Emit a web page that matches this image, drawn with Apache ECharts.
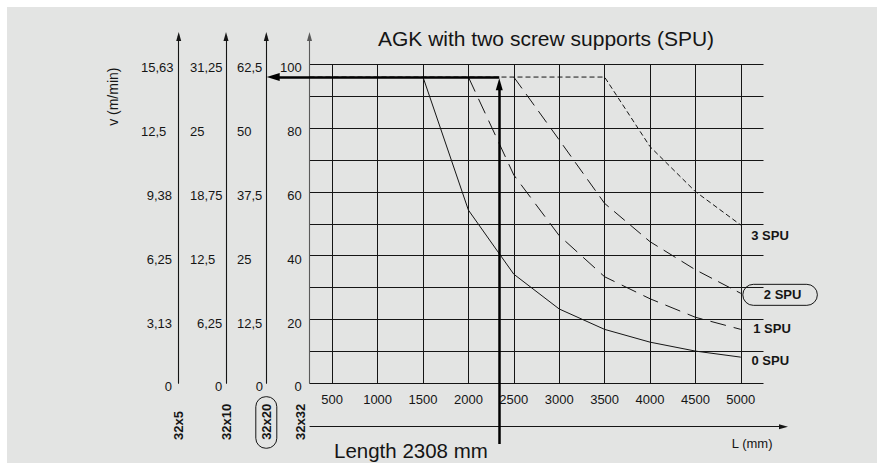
<!DOCTYPE html>
<html><head><meta charset="utf-8">
<script src="https://cdn.jsdelivr.net/npm/echarts@6/dist/echarts.min.js"></script>
<style>html,body{margin:0;padding:0;background:#fff}#c{width:884px;height:470px}</style>
</head><body><div id="c"></div>
<script>
// ---------------- data ----------------
const titleText = 'AGK with two screw supports (SPU)';
const lengthText = 'Length 2308 mm';
const speedAxisName = 'v (m/min)';
const lengthAxisName = 'L (mm)';
const seriesNames = ['0 SPU', '1 SPU', '2 SPU', '3 SPU'];
const spu0L = [1500, 2000, 2500, 3000, 3500, 4000, 4500, 5000];
const spu0V = [96, 54.3, 34.2, 23.3, 16.9, 12.9, 10.1, 8.2];
const spu1L = [2000, 2500, 3000, 3500, 4000, 4500, 5000];
const spu1V = [96, 65.3, 46.3, 33.4, 26.5, 20.7, 16.9];
const spu2L = [2500, 3000, 3500, 4000, 4500, 5000];
const spu2V = [96, 76.3, 56.4, 44.4, 35.6, 28.2];
const spu3L = [250, 3500, 4000, 4500, 5000];
const spu3V = [96, 96, 74.2, 60.1, 49.6];
const markLength = 2340;   // drawn position of the 2308 mm reading
const markSpeed = 96;
const xTickLabels = ['500', '1000', '1500', '2000', '2500', '3000', '3500', '4000', '4500', '5000'];
const screwNames = ['32x32', '32x20', '32x10', '32x5'];
const ticks32x32 = ['0', '20', '40', '60', '80', '100'];
const ticks32x20 = ['0', '12,5', '25', '37,5', '50', '62,5'];
const ticks32x10 = ['0', '6,25', '12,5', '18,75', '25', '31,25'];
const ticks32x5 = ['0', '3,13', '6,25', '9,38', '12,5', '15,63'];

// ---------------- layout ----------------
const FONT = 'Liberation Sans, Arial, Helvetica, sans-serif';
const INK = '#151515';
const G = { left: 309.5, right: 763.5, y0: 383.3, y100: 64.3, W: 884, H: 470 };
const xMin = 250, xMax = 5250, yMax = 100;
const kx = (G.right - G.left) / (xMax - xMin);
const ky = (G.y0 - G.y100) / yMax;
const arrowTop = 36.5;
const yMaxA = (G.y0 - arrowTop) / ky;
const bLeft = 266.3, bBottom = 444, bTop = 40;
const xMinB = xMin - (G.left - bLeft) / kx;
const yMinB = -(bBottom - G.y0) / ky;
const yMaxB = (G.y0 - bTop) / ky;
const vArrow = [7, 12], hArrow = [8, 13];
const vEnd = markSpeed - (vArrow[1] / 2 + 1.2) / ky;
const hEnd = xMinB + (hArrow[1] / 2 + 0.4) / kx;

function tickFormatter(labels, leftSet) {
  return function (v) {
    const i = Math.round(v / 20);
    if (Math.abs(v - i * 20) > 1e-6 || i < 0 || i >= labels.length) return '';
    return leftSet.indexOf(i) >= 0 ? '{l|' + labels[i] + '}' : labels[i];
  };
}

function speedAxis(offset, labels, leftSet, boxW, margin, lineColor, showLine) {
  return {
    gridIndex: 1, type: 'value', position: 'left', offset: offset,
    min: 0, max: yMaxA, interval: 20,
    axisLine: { show: showLine, symbol: ['none', 'triangle'], symbolSize: [5, 9],
      lineStyle: { color: lineColor, width: 1.1 } },
    axisTick: { show: false }, splitLine: { show: false },
    axisLabel: { show: labels != null, formatter: labels ? tickFormatter(labels, leftSet) : '',
      margin: margin, align: 'right', verticalAlign: 'middle', padding: [7, 0, 0, 0],
      fontSize: 13, fontFamily: FONT, color: INK,
      rich: { l: { width: boxW, align: 'left', fontSize: 13, fontFamily: FONT, color: INK } } }
  };
}

function nameAxis(base, name, gap, extraStyle) {
  return Object.assign(base, {
    name: name, nameLocation: 'start', nameRotate: 90, nameGap: gap,
    nameTextStyle: Object.assign({ align: 'left', verticalAlign: 'middle', fontSize: 13,
      fontWeight: 'bold', fontFamily: FONT, color: INK }, extraStyle || {})
  });
}

function lineSeries(name, Ls, Vs, dash, labelOpt) {
  const data = Ls.map((l, i) => i === Ls.length - 1
    ? { value: [l, Vs[i]], label: Object.assign({ show: true, position: 'right', distance: 0,
        formatter: name, fontSize: 13, fontWeight: 'bold', fontFamily: FONT, color: INK }, labelOpt) }
    : [l, Vs[i]]);
  return { type: 'line', name: name, xAxisIndex: 0, yAxisIndex: 0, data: data,
    showSymbol: true, symbol: 'circle', symbolSize: 0, silent: true, z: 3,
    lineStyle: { color: INK, width: 1, type: dash }, itemStyle: { color: INK },
    label: { show: false }, emphasis: { disabled: true } };
}

const xSplitColors = ['rgba(0,0,0,0)', INK];

const option = {
  animation: false,
  backgroundColor: '#ffffff',
  title: [
    { text: titleText, left: 378, top: 28, padding: 0,
      textStyle: { fontSize: 21, fontWeight: 'normal', fontFamily: FONT, color: INK } },
    { text: lengthText, left: 334, top: 440, padding: 0,
      textStyle: { fontSize: 20.5, fontWeight: 'normal', fontFamily: FONT, color: INK } }
  ],
  graphic: [
    { type: 'rect', z: -100, silent: true, shape: { x: 7, y: 7, width: 870, height: 456 },
      style: { fill: '#e3e4e3' } },
    { type: 'text', x: 113.3, y: 96.7, rotation: Math.PI / 2, silent: true,
      style: { text: speedAxisName, font: '14px ' + FONT, fill: INK, align: 'center', verticalAlign: 'middle' } }
  ],
  grid: [
    { left: G.left, right: G.W - G.right, top: G.y100, bottom: G.H - G.y0 },
    { left: G.left, right: G.W - G.right, top: arrowTop, bottom: G.H - G.y0 },
    { left: bLeft, right: G.W - G.right, top: bTop, bottom: G.H - bBottom },
    { left: 310, right: 100.5, top: 420, bottom: G.H - 426.7 }
  ],
  xAxis: [
    { gridIndex: 0, type: 'value', min: xMin, max: xMax, interval: 250,
      axisLine: { show: false }, axisTick: { show: false },
      splitLine: { show: true, lineStyle: { color: xSplitColors, width: 1 } },
      axisLabel: { margin: 10, fontSize: 13, fontFamily: FONT, color: INK,
        formatter: v => xTickLabels.indexOf(String(v)) >= 0 ? String(v) : '' } },
    { gridIndex: 1, type: 'value', min: 0, max: 1, show: false },
    { gridIndex: 2, type: 'value', min: xMinB, max: xMax, show: false },
    { gridIndex: 3, type: 'value', min: 0, max: 1,
      axisLine: { show: true, symbol: ['none', 'triangle'], symbolSize: [5, 9],
        lineStyle: { color: INK, width: 1.1 } },
      axisTick: { show: false }, axisLabel: { show: false }, splitLine: { show: false },
      name: lengthAxisName, nameLocation: 'end', nameGap: -11,
      nameTextStyle: { align: 'right', verticalAlign: 'top', padding: [10, 0, 0, 0],
        fontSize: 13, fontFamily: FONT, color: INK } }
  ],
  yAxis: [
    { gridIndex: 0, type: 'value', min: 0, max: yMax, interval: 10,
      axisLine: { show: false }, axisTick: { show: false }, axisLabel: { show: false },
      splitLine: { show: true, lineStyle: { color: INK, width: 1 } } },
    speedAxis(0, ticks32x32, [], 0, 7.8, '#5a5a5a', true),
    nameAxis(speedAxis(G.left - 266.3, ticks32x20, [1, 2, 3, 4, 5], 26, 3.3, INK, true),
      screwNames[1], 64.4, { padding: [4, 7, 4, 8.4], borderColor: INK, borderWidth: 1, borderRadius: 10 }),
    nameAxis(speedAxis(G.left - 226, ticks32x10, [2, 3, 4, 5], 32.3, 3.7, INK, true),
      screwNames[2], 56.7),
    nameAxis(speedAxis(G.left - 178.7, ticks32x5, [4, 5], 31, 6.7, INK, true),
      screwNames[3], 56.7),
    nameAxis(speedAxis(G.left - 300.7, null, [], 0, 0, INK, false), screwNames[0], 56.7),
    { gridIndex: 2, type: 'value', min: yMinB, max: yMaxB, show: false },
    { gridIndex: 3, type: 'value', min: 0, max: 1, show: false }
  ],
  series: [
    lineSeries(seriesNames[0], spu0L, spu0V, 'solid', { offset: [10.7, 3] }),
    lineSeries(seriesNames[1], spu1L, spu1V, [16, 8], { offset: [12.4, -1] }),
    lineSeries(seriesNames[2], spu2L, spu2V, [14, 7], { offset: [2, 1.5], padding: [4, 16, 4, 21],
      borderColor: INK, borderWidth: 1, borderRadius: 11 }),
    lineSeries(seriesNames[3], spu3L, spu3V, [5, 3], { offset: [10.4, 10] }),
    { type: 'line', xAxisIndex: 2, yAxisIndex: 6, data: [[markLength, markSpeed]], symbol: 'none',
      lineStyle: { opacity: 0 }, silent: true, z: 6,
      markLine: { silent: true, animation: false, symbol: ['none', 'none'], label: { show: false },
        lineStyle: { color: '#000', width: 2.5, type: 'solid' }, emphasis: { disabled: true },
        data: [
          [{ coord: [markLength, yMinB] }, { coord: [markLength, vEnd], symbol: 'triangle', symbolSize: vArrow }],
          [{ coord: [markLength, markSpeed] }, { coord: [hEnd, markSpeed], symbol: 'triangle', symbolSize: hArrow }]
        ] } }
  ]
};

const chart = echarts.init(document.getElementById('c'), null, { renderer: 'svg' });
chart.setOption(option);
</script>
</body></html>
